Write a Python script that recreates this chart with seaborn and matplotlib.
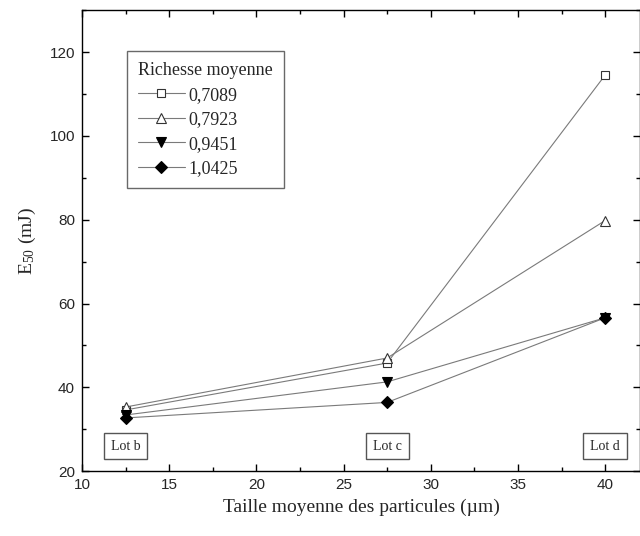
import numpy as np
import pandas as pd
import matplotlib
matplotlib.use("Agg")
import matplotlib.pyplot as plt
from matplotlib.ticker import MultipleLocator
import seaborn as sns

# data
taille = [12.5, 27.5, 40.0]
richesse = ["0,7089", "0,7923", "0,9451", "1,0425"]
e50_07089 = [34.6, 45.8, 114.5]
e50_07923 = [35.3, 47.0, 79.8]
e50_09451 = [33.4, 41.3, 56.6]
e50_10425 = [32.7, 36.4, 56.6]
lots = ["Lot b", "Lot c", "Lot d"]

series = [e50_07089, e50_07923, e50_09451, e50_10425]
df = pd.DataFrame({
    "Taille": taille * len(richesse),
    "E50": np.concatenate(series),
    "Richesse": np.repeat(richesse, len(taille)),
})

sns.set_theme(style="ticks")
plt.rcParams["font.family"] = ["Liberation Sans", "DejaVu Sans"]
plt.rcParams["mathtext.fontset"] = "custom"
plt.rcParams["mathtext.rm"] = "Liberation Serif"
plt.rcParams["mathtext.it"] = "Liberation Serif:italic"
serif = ["Liberation Serif", "DejaVu Serif"]

fig = plt.figure(figsize=(6.4, 5.36), dpi=100)
ax = fig.add_axes([0.128, 0.121, 0.872, 0.860])

# marker styles per series
markers = ["s", "^", "v", "D"]
faces = ["white", "white", "black", "black"]
sizes = [6, 7, 7, 6.5]
for r, m, fc, ms in zip(richesse, markers, faces, sizes):
    sns.lineplot(data=df[df["Richesse"] == r], x="Taille", y="E50", ax=ax,
                 color="#7a7a7a", lw=0.8, marker=m, markersize=ms,
                 markerfacecolor=fc, markeredgecolor="#333333" if fc == "white" else "black",
                 markeredgewidth=0.8, label=r)

ax.set_xlim(10, 42)
ax.set_ylim(20, 130)
ax.xaxis.set_major_locator(MultipleLocator(5))
ax.xaxis.set_minor_locator(MultipleLocator(2.5))
ax.yaxis.set_major_locator(MultipleLocator(20))
ax.yaxis.set_minor_locator(MultipleLocator(10))
ax.tick_params(which="both", direction="in", top=True, right=True, width=1.0,
               labelsize=11, color="black")
ax.tick_params(which="major", length=5, pad=5)
ax.tick_params(which="minor", length=3)
for s in ax.spines.values():
    s.set_color("black")
    s.set_linewidth(1.0)

ax.set_xlabel("Taille moyenne des particules (µm)", family=serif, fontsize=14, labelpad=5)
ax.set_ylabel(r"E$_{\mathrm{50}}$ (mJ)", family=serif, fontsize=14, labelpad=8)

for lx, lt in zip(taille, lots):
    ax.text(lx, 26, lt, family=serif, fontsize=10, ha="center", va="center",
            bbox=dict(boxstyle="square,pad=0.5", fc="white", ec="#555555", lw=1.0))

leg = ax.legend(title="Richesse moyenne", loc="upper left", bbox_to_anchor=(0.081, 0.911),
                borderaxespad=0, frameon=True, fancybox=False, prop={"family": serif, "size": 13},
                handlelength=2.6, handletextpad=0.2, labelspacing=0.42, borderpad=0.6)
leg.get_title().set_family(serif)
leg.get_title().set_fontsize(13)
leg.get_frame().set_edgecolor("#444444")
leg.get_frame().set_linewidth(1.0)
leg._legend_box.align = "left"

fig.savefig("out.png", dpi=100)
